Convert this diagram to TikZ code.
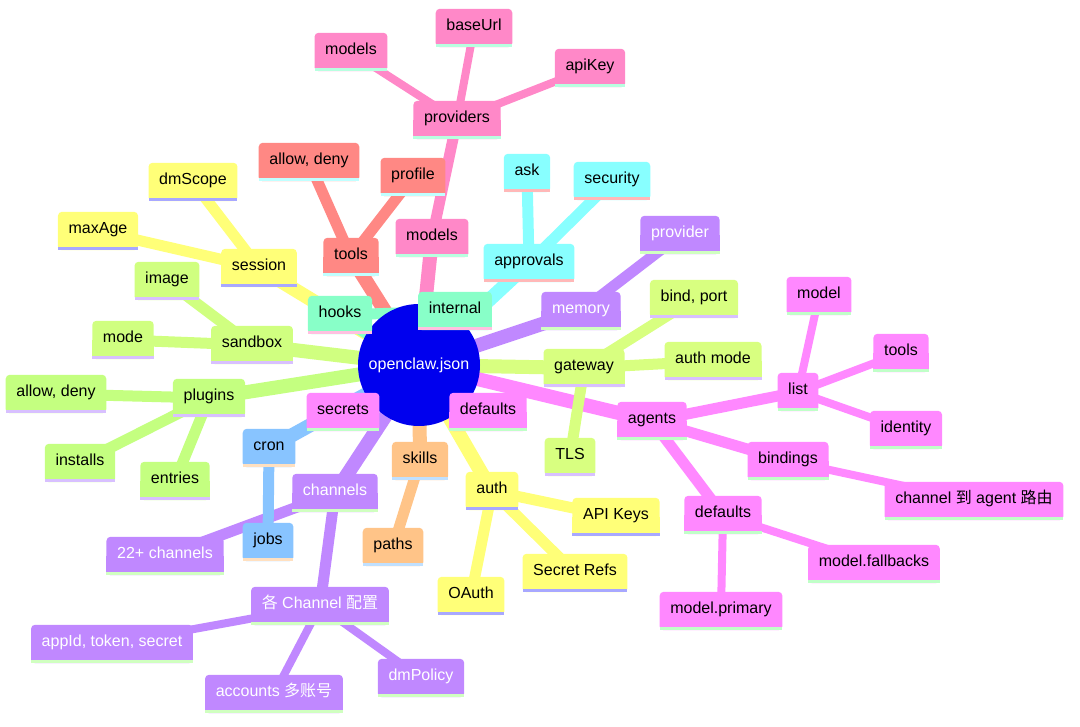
\documentclass[tikz,border=0pt]{standalone}
\usepackage{fontspec}
\setmainfont{Liberation Sans}
\newfontfamily\cjk{Noto Sans CJK SC}
\pgfdeclarelayer{edges}
\pgfdeclarelayer{boxes}
\pgfsetlayers{edges,boxes,main}
\definecolor{rootblue}{HTML}{0000EE}
\definecolor{pkA}{HTML}{FF88C8}\definecolor{pkAs}{HTML}{B8FFE0}
\definecolor{rd}{HTML}{FF8884}\definecolor{rds}{HTML}{C0FFFF}
\definecolor{yl}{HTML}{FFFF78}\definecolor{yls}{HTML}{A8A8FF}
\definecolor{aq}{HTML}{88FFC8}\definecolor{aqs}{HTML}{FFC0E0}
\definecolor{cy}{HTML}{88FFFF}\definecolor{cys}{HTML}{FFB8B8}
\definecolor{pu}{HTML}{C088FF}\definecolor{pus}{HTML}{D0FFC0}
\definecolor{gG}{HTML}{D8FF80}\definecolor{gS}{HTML}{D0FF80}\definecolor{gP}{HTML}{C4FF80}
\definecolor{gs}{HTML}{D8C0FF}
\definecolor{mg}{HTML}{FF88FF}\definecolor{mgs}{HTML}{C0FFC8}
\definecolor{or}{HTML}{FFC488}\definecolor{ors}{HTML}{C0E0FF}
\definecolor{bl}{HTML}{88C4FF}\definecolor{bls}{HTML}{FFE0C0}
\tikzset{
  mmbox/.style={inner xsep=10.5pt, inner ysep=9.25pt, text height=12.5pt, text depth=7pt,
    font=\fontsize{16}{19}\selectfont},
  ezero/.style={line width=14pt},
  eone/.style={line width=11pt},
  etwo/.style={line width=8pt}
}
\newcommand{\mmn}[6]{%
  \node[mmbox, text=#6] (#1) at (#2) {#3};
  \begin{pgfonlayer}{boxes}
    \fill[#4, rounded corners=4pt] (#1.south west) rectangle (#1.north east);
    \fill[#4] (#1.south west) rectangle (#1.east);
    \fill[#5] (#1.south west) rectangle ([yshift=3pt]#1.south east);
  \end{pgfonlayer}}
\newcommand{\mme}[4]{%
  \begin{pgfonlayer}{edges}
    \draw[#1, draw=#2] (#3.center) -- (#4.center);
  \end{pgfonlayer}}
\begin{document}
\begin{tikzpicture}[x=1pt,y=-1pt]
\begin{pgfonlayer}{edges}
\fill[white] (0,0) rectangle (1080,727);
\end{pgfonlayer}
\useasboundingbox (0,0) rectangle (1080,727);
% root
\node[circle, minimum size=122pt, text=white, font=\fontsize{16}{19}\selectfont] (root) at (419,365) {openclaw.json};
\begin{pgfonlayer}{boxes}
\fill[rootblue] (root.center) circle[radius=61pt];
\end{pgfonlayer}
% models branch
\mmn{modelsA}{432,238}{models}{pkA}{pkAs}{black}
\mmn{providers}{457,120}{providers}{pkA}{pkAs}{black}
\mmn{modelsT}{351,52}{models}{pkA}{pkAs}{black}
\mmn{baseUrl}{474,28}{baseUrl}{pkA}{pkAs}{black}
\mmn{apiKey}{590,68}{apiKey}{pkA}{pkAs}{black}
% tools branch
\mmn{tools}{351,257}{tools}{rd}{rds}{black}
\mmn{allowT}{309,162}{allow, deny}{rd}{rds}{black}
\mmn{profile}{413,177}{profile}{rd}{rds}{black}
% session
\mmn{session}{259,268}{session}{yl}{yls}{black}
\mmn{dmScope}{193,182}{dmScope}{yl}{yls}{black}
\mmn{maxAge}{98,231}{maxAge}{yl}{yls}{black}
% hooks
\mmn{hooks}{340,315}{hooks}{aq}{aqs}{black}
\mmn{internal}{455,311}{internal}{aq}{aqs}{black}
% approvals
\mmn{approvals}{529,263}{approvals}{cy}{cys}{black}
\mmn{ask}{527,173}{ask}{cy}{cys}{black}
\mmn{security}{612,181}{security}{cy}{cys}{black}
% memory
\mmn{memory}{581,311}{memory}{pu}{pus}{white}
\mmn{provider}{680,235}{provider}{pu}{pus}{white}
% gateway
\mmn{gateway}{584,368}{gateway}{gG}{gs}{black}
\mmn{bindport}{694,299}{bind, port}{gG}{gs}{black}
\mmn{authmode}{713,361}{auth mode}{gG}{gs}{black}
\mmn{tls}{570,457}{TLS}{gG}{gs}{black}
% agents
\mmn{agents}{652,421}{agents}{mg}{mgs}{black}
\mmn{list}{798,392}{list}{mg}{mgs}{black}
\mmn{model}{819,296}{model}{mg}{mgs}{black}
\mmn{toolsA}{901,353}{tools}{mg}{mgs}{black}
\mmn{identity}{906,430}{identity}{mg}{mgs}{black}
\mmn{bindings}{788,461}{bindings}{mg}{mgs}{black}
\mmn{route}{974,501}{channel {\cjk 到} agent {\cjk 路由}}{mg}{mgs}{black}
\mmn{defaultsA}{723,515}{defaults}{mg}{mgs}{black}
\mmn{primary}{721,611}{model.primary}{mg}{mgs}{black}
\mmn{fallbacks}{874,564}{model.fallbacks}{mg}{mgs}{black}
% defaults, secrets
\mmn{defaultsR}{488,412}{defaults}{mg}{mgs}{black}
\mmn{secrets}{343,412}{secrets}{mg}{mgs}{black}
% skills
\mmn{skills}{420,461}{skills}{or}{ors}{black}
\mmn{paths}{393,547}{paths}{or}{ors}{black}
% auth
\mmn{auth}{492,491}{auth}{yl}{yls}{black}
\mmn{apikeys}{616,517}{API Keys}{yl}{yls}{black}
\mmn{secretrefs}{575,573}{Secret Refs}{yl}{yls}{black}
\mmn{oauth}{471,596}{OAuth}{yl}{yls}{black}
% channels
\mmn{channels}{335,493}{channels}{pu}{pus}{white}
\mmn{chtwo}{165,556}{22+ channels}{pu}{pus}{white}
\mmn{chcfg}{320,606}{{\cjk 各} Channel {\cjk 配置}}{pu}{pus}{white}
\mmn{appid}{112,644}{appId, token, secret}{pu}{pus}{white}
\mmn{accounts}{274,694}{accounts {\cjk 多账号}}{pu}{pus}{white}
\mmn{dmpolicy}{421,678}{dmPolicy}{pu}{pus}{white}
% cron
\mmn{cron}{269,448}{cron}{bl}{bls}{black}
\mmn{jobs}{268,542}{jobs}{bl}{bls}{black}
% plugins
\mmn{plugins}{209,398}{plugins}{gP}{gs}{black}
\mmn{allowP}{56,394}{allow, deny}{gP}{gs}{black}
\mmn{installs}{80,463}{installs}{gP}{gs}{black}
\mmn{entries}{175,481}{entries}{gP}{gs}{black}
% sandbox
\mmn{sandbox}{252,345}{sandbox}{gS}{gs}{black}
\mmn{image}{167,281}{image}{gS}{gs}{black}
\mmn{mode}{123,340}{mode}{gS}{gs}{black}
% ---- edges from root
\mme{ezero}{pkA}{root}{modelsA}
\mme{ezero}{rd}{root}{tools}
\mme{ezero}{yl}{root}{session}
\mme{ezero}{aq}{root}{hooks}
\mme{ezero}{cy}{root}{approvals}
\mme{ezero}{pu}{root}{memory}
\mme{ezero}{gG}{root}{gateway}
\mme{ezero}{mg}{root}{agents}
\mme{ezero}{mg}{root}{defaultsR}
\mme{ezero}{or}{root}{skills}
\mme{ezero}{yl}{root}{auth}
\mme{ezero}{pu}{root}{channels}
\mme{ezero}{mg}{root}{secrets}
\mme{ezero}{bl}{root}{cron}
\mme{ezero}{gP}{root}{plugins}
\mme{ezero}{gS}{root}{sandbox}
% ---- level 1 to 2
\mme{eone}{pkA}{modelsA}{providers}
\mme{eone}{rd}{tools}{allowT}
\mme{eone}{rd}{tools}{profile}
\mme{eone}{yl}{session}{dmScope}
\mme{eone}{yl}{session}{maxAge}
\mme{eone}{aq}{hooks}{internal}
\mme{eone}{cy}{approvals}{ask}
\mme{eone}{cy}{approvals}{security}
\mme{eone}{pu}{memory}{provider}
\mme{eone}{gG}{gateway}{bindport}
\mme{eone}{gG}{gateway}{authmode}
\mme{eone}{gG}{gateway}{tls}
\mme{eone}{mg}{agents}{list}
\mme{eone}{mg}{agents}{bindings}
\mme{eone}{mg}{agents}{defaultsA}
\mme{eone}{or}{skills}{paths}
\mme{eone}{yl}{auth}{apikeys}
\mme{eone}{yl}{auth}{secretrefs}
\mme{eone}{yl}{auth}{oauth}
\mme{eone}{pu}{channels}{chtwo}
\mme{eone}{pu}{channels}{chcfg}
\mme{eone}{bl}{cron}{jobs}
\mme{eone}{gP}{plugins}{allowP}
\mme{eone}{gP}{plugins}{installs}
\mme{eone}{gP}{plugins}{entries}
\mme{eone}{gS}{sandbox}{image}
\mme{eone}{gS}{sandbox}{mode}
% ---- level 2 to 3
\mme{etwo}{pkA}{providers}{modelsT}
\mme{etwo}{pkA}{providers}{baseUrl}
\mme{etwo}{pkA}{providers}{apiKey}
\mme{etwo}{mg}{list}{model}
\mme{etwo}{mg}{list}{toolsA}
\mme{etwo}{mg}{list}{identity}
\mme{etwo}{mg}{bindings}{route}
\mme{etwo}{mg}{defaultsA}{primary}
\mme{etwo}{mg}{defaultsA}{fallbacks}
\mme{etwo}{pu}{chcfg}{appid}
\mme{etwo}{pu}{chcfg}{accounts}
\mme{etwo}{pu}{chcfg}{dmpolicy}
\end{tikzpicture}
\end{document}
